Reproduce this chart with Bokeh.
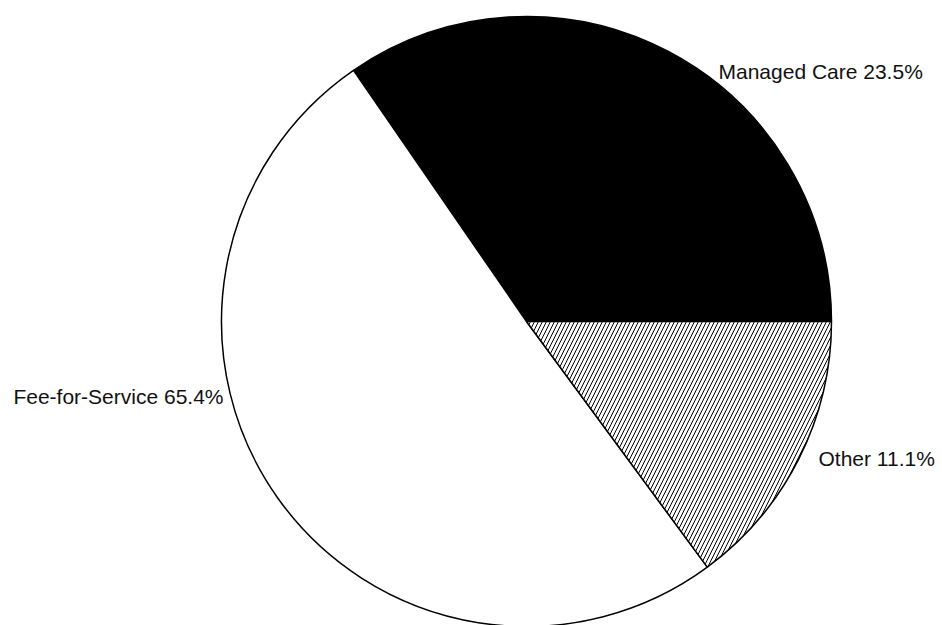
import math
from bokeh.plotting import figure
from bokeh.models import Range1d, Label
from bokeh.embed import file_html
from bokeh.resources import INLINE

# Data
categories = ["Managed Care", "Fee-for-Service", "Other"]
slice_shares = [34.6, 50.5, 14.9]          # slice sizes as drawn
label_pcts = ["23.5%", "65.4%", "11.1%"]   # printed percentages
fills = ["black", "white", "white"]
hatches = [" ", " ", "/"]

W, H = 942, 625
p = figure(width=W, height=H, output_backend="svg", toolbar_location=None,
           x_range=Range1d(0, W), y_range=Range1d(0, H), min_border=0)
p.axis.visible = False
p.grid.visible = False
p.outline_line_color = None
p.background_fill_color = "white"
p.border_fill_color = "white"

def px(x):
    return x

def py(y):
    return H - y

cx, cy, r = px(526), py(321), 305

start = 0.0
starts, ends = [], []
for s in slice_shares:
    a = s / sum(slice_shares) * 2 * math.pi
    starts.append(start)
    ends.append(start + a)
    start += a

for i in range(len(categories)):
    p.wedge(x=cx, y=cy, radius=r, start_angle=starts[i], end_angle=ends[i],
            fill_color=fills[i], line_color="black", line_width=1.5,
            hatch_pattern=hatches[i], hatch_color="black", hatch_scale=8,
            hatch_weight=1.0)

label_pos = [(718, 71, "left"), (223, 396, "right"), (818, 458, "left")]
for (name, pct), (lx, ly, al) in zip(zip(categories, label_pcts), label_pos):
    p.add_layout(Label(x=px(lx), y=py(ly), text=f"{name} {pct}",
                       text_font="Liberation Sans", text_font_size="21px",
                       text_color="#111111", text_align=al,
                       text_baseline="alphabetic"))

open("out.html", "w").write(file_html(p, INLINE))
